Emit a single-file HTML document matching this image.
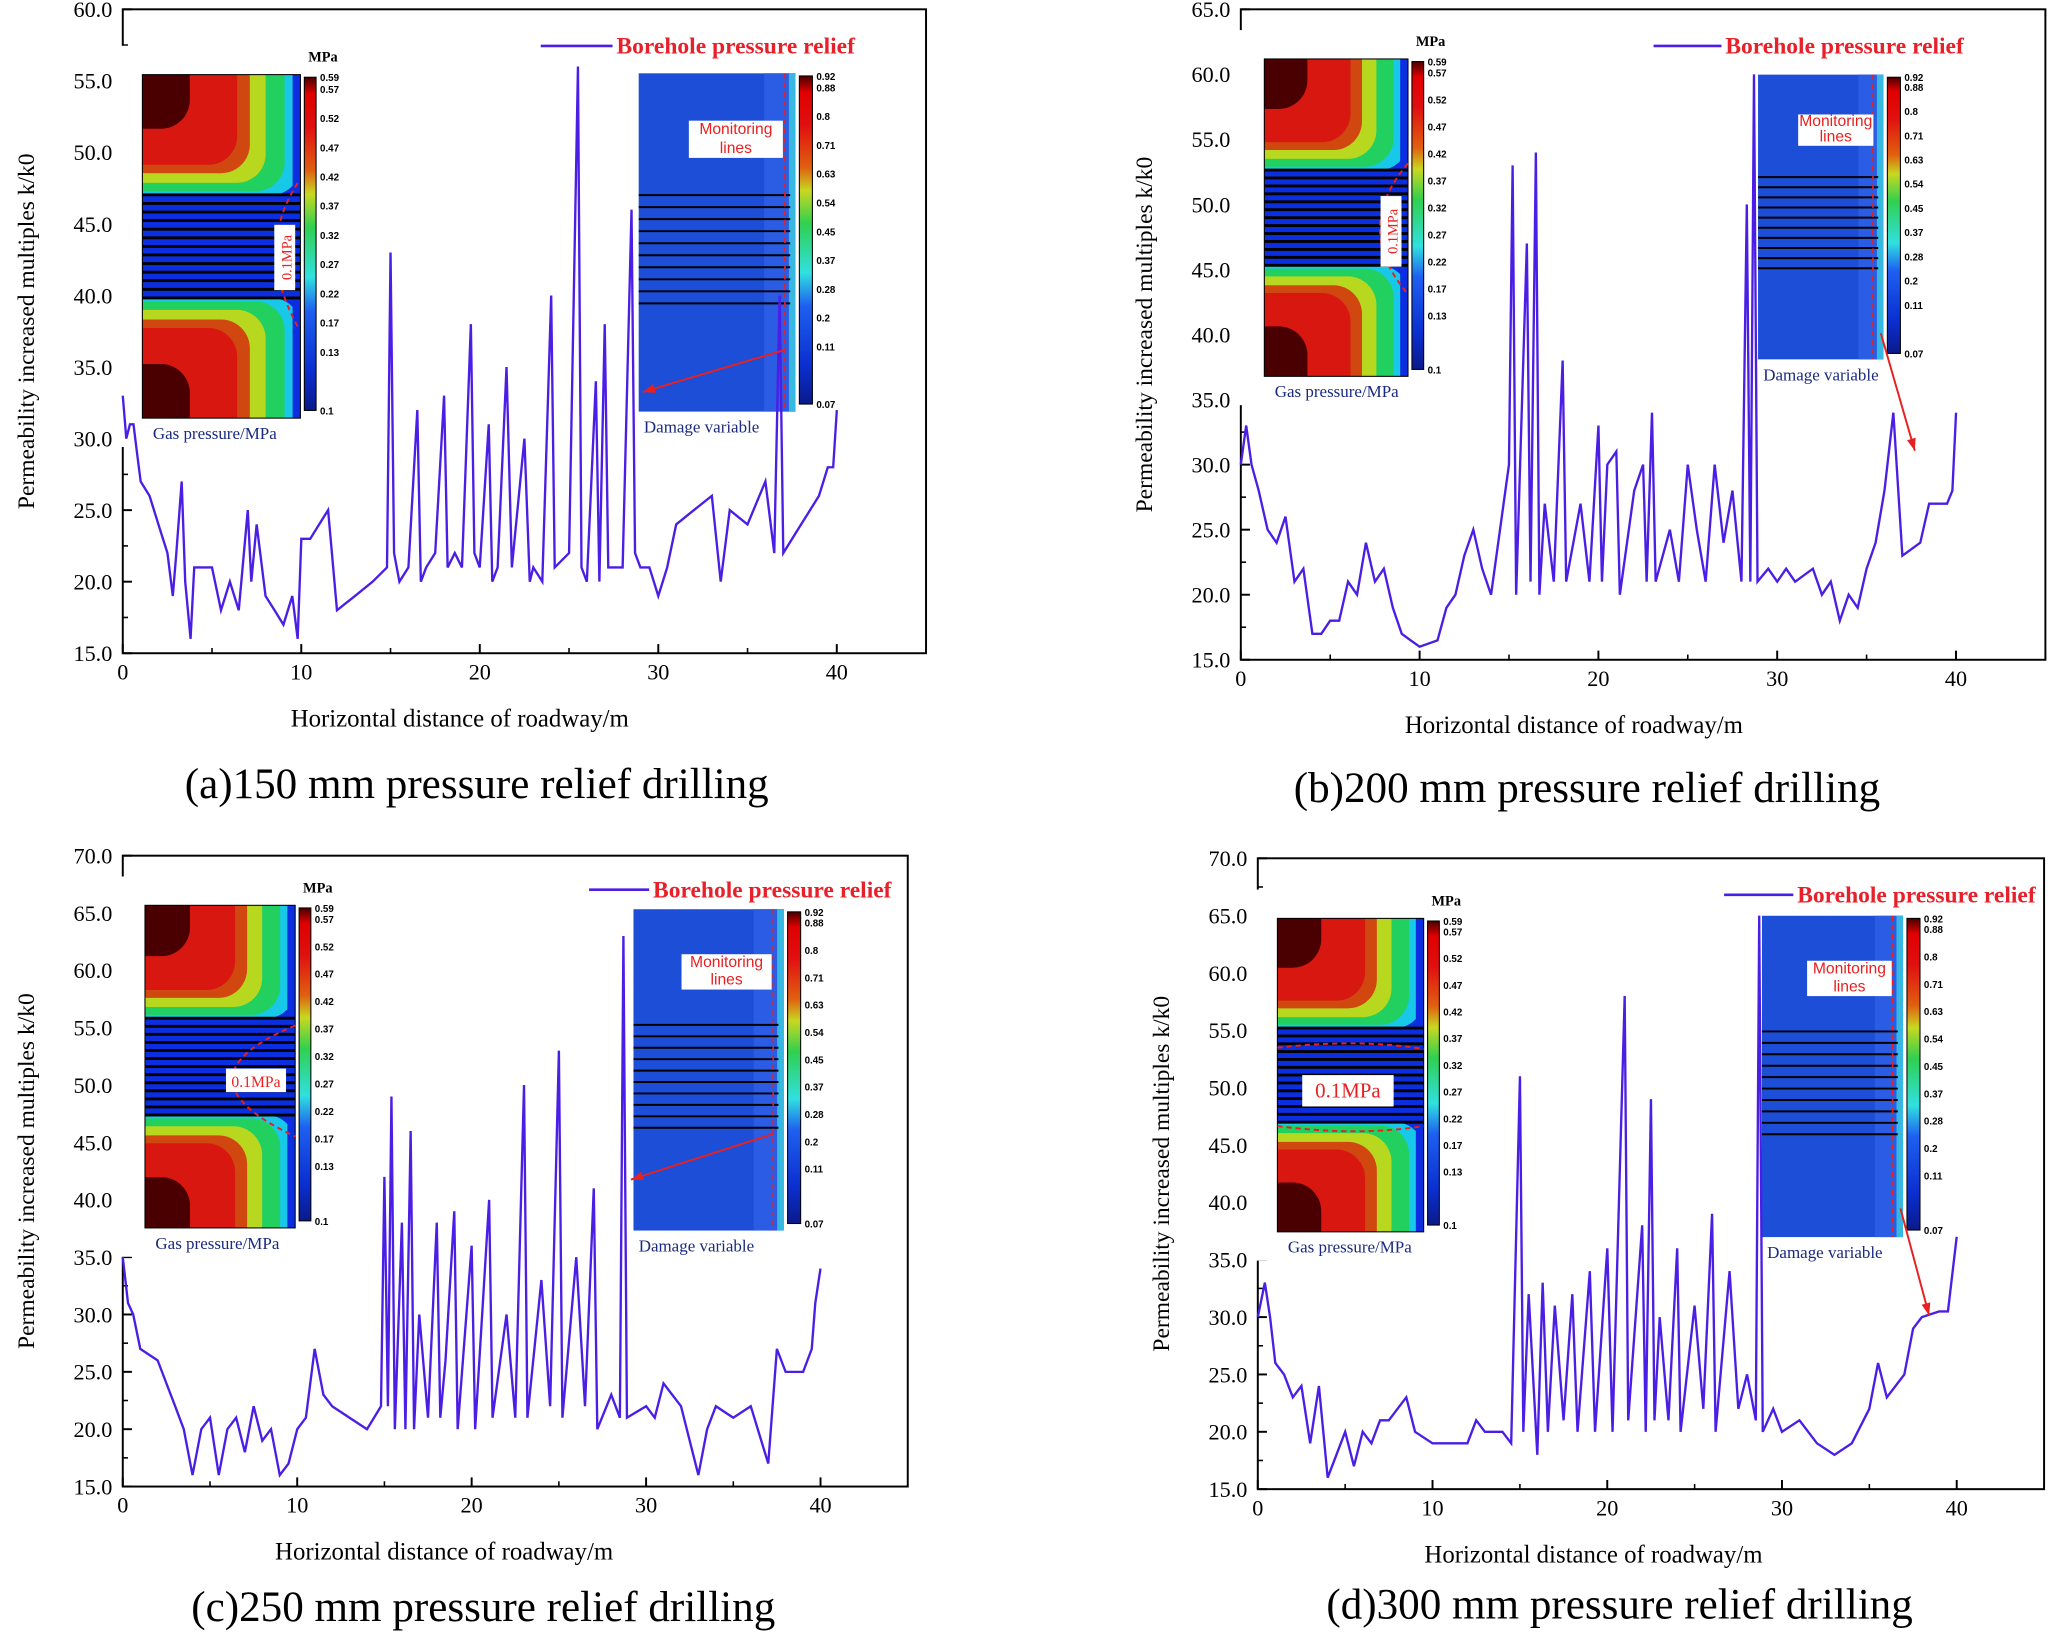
<!DOCTYPE html>
<html><head><meta charset="utf-8"><style>
html,body{margin:0;padding:0;background:#fff;}
svg{display:block;font-family:"Liberation Serif","Noto Serif CJK SC",serif;}
</style></head><body>
<svg id="fig" width="2048" height="1633" viewBox="0 0 1568 1250" xmlns="http://www.w3.org/2000/svg">
<defs>
<linearGradient id="cbar" x1="0" y1="1" x2="0" y2="0">
<stop offset="0" stop-color="#0a1a8a"/><stop offset="0.12" stop-color="#0b2fd0"/><stop offset="0.3" stop-color="#1e60f0"/>
<stop offset="0.4" stop-color="#30e0e0"/><stop offset="0.55" stop-color="#30d050"/><stop offset="0.65" stop-color="#c8d820"/>
<stop offset="0.72" stop-color="#e06010"/><stop offset="0.85" stop-color="#e01010"/><stop offset="0.95" stop-color="#e00000"/><stop offset="1" stop-color="#4a0000"/>
</linearGradient>
</defs>
</svg>
<script>
// ---- data ----
const xA=[0,0.2,0.4,0.6,0.8,1,1.5,2,2.5,2.8,3,3.3,3.5,3.8,4,5,5.5,6,6.5,7,7.2,7.5,8,8.5,9,9.5,9.8,10,10.5,11,11.5,12,13,14,14.8,15,15.2,15.5,16,16.5,16.7,17,17.5,18,18.2,18.6,19,19.5,19.7,20,20.5,20.7,21,21.5,21.8,22.5,22.8,23,23.5,24,24.2,25,25.5,25.7,26,26.5,26.7,27,27.2,28,28.5,28.7,29,29.5,30,30.5,31,32,33,33.5,34,35,36,36.5,36.8,37,38,38.5,39,39.5,39.8,40];
const yA=[33,30,31,31,29,27,26,24,22,19,22,27,20,16,21,21,18,20,18,25,20,24,19,18,17,19,16,23,23,24,25,18,19,20,21,43,22,20,21,32,20,21,22,33,21,22,21,38,22,21,31,20,21,35,21,30,20,21,20,40,21,22,56,21,20,34,20,38,21,21,46,22,21,21,19,21,24,25,26,20,25,24,27,22,40,22,24,25,26,28,28,32];
const xB=[0,0.3,0.6,1,1.5,2,2.5,3,3.5,4,4.5,5,5.5,6,6.5,7,7.5,8,8.5,9,9.5,10,11,11.5,12,12.5,13,13.5,14,15,15.2,15.4,16,16.2,16.5,16.7,17,17.5,18,18.2,19,19.5,20,20.2,20.5,21,21.2,22,22.5,22.7,23,23.2,24,24.5,25,25.5,26,26.5,27,27.5,28,28.3,28.5,28.7,28.9,29.5,30,30.5,31,32,32.5,33,33.5,34,34.5,35,35.5,36,36.5,37,38,38.5,39,39.5,39.8,40];
const yB=[30,33,30,28,25,24,26,21,22,17,17,18,18,21,20,24,21,22,19,17,16.5,16,16.5,19,20,23,25,22,20,30,53,20,47,21,54,20,27,21,38,21,27,21,33,21,30,31,20,28,30,21,34,21,25,21,30,25,21,30,24,28,21,50,21,60,21,22,21,22,21,22,20,21,18,20,19,22,24,28,34,23,24,27,27,27,28,34];
const xC=[0,0.3,0.6,1,2,2.5,3,3.5,4,4.5,5,5.5,6,6.5,7,7.5,8,8.5,9,9.5,10,10.5,11,11.5,12,13,14,14.8,15,15.2,15.4,15.6,16,16.2,16.5,16.7,17,17.5,18,18.2,18.5,19,19.2,20,20.2,21,21.2,22,22.5,23,23.2,24,24.5,25,25.2,26,26.5,27,27.2,28,28.5,28.7,28.9,30,30.5,31,32,33,33.5,34,35,36,37,37.5,38,39,39.5,39.7,40];
const yC=[35,31,30,27,26,24,22,20,16,20,21,16,20,21,18,22,19,20,16,17,20,21,27,23,22,21,20,22,42,22,49,20,38,20,46,20,30,21,38,21,26,39,20,36,20,40,21,30,21,50,21,33,22,53,21,35,22,41,20,23,21,63,21,22,21,24,22,16,20,22,21,22,17,27,25,25,27,31,34];
const xD=[0,0.4,0.7,1,1.5,2,2.5,3,3.5,4,4.5,5,5.5,6,6.5,7,7.5,8,8.5,9,10,11,12,12.5,13,14,14.5,15,15.2,15.5,16,16.3,16.6,17,17.5,18,18.3,19,19.3,20,20.3,21,21.2,22,22.2,22.5,22.7,23,23.5,24,24.2,25,25.5,26,26.2,27,27.5,28,28.5,28.7,28.9,29.5,30,31,32,33,34,35,35.5,36,37,37.5,38,39,39.5,40];
const yD=[30,33,30,26,25,23,24,19,24,16,18,20,17,20,19,21,21,22,23,20,19,19,19,21,20,20,19,51,20,32,18,33,20,31,21,32,20,34,20,36,20,58,21,38,20,49,21,30,21,36,20,31,22,39,20,34,22,25,21,65,20,22,20,21,19,18,19,22,26,23,25,29,30,30.5,30.5,37];
const xTicks=[0,10,20,30,40];
const yTicksAB=[15,20,25,30,35,40,45,50,55,60];
const yTicksB=[15,20,25,30,35,40,45,50,55,60,65];
const yTicksCD=[15,20,25,30,35,40,45,50,55,60,65,70];
const gasLabels=["0.59","0.57","0.52","0.47","0.42","0.37","0.32","0.27","0.22","0.17","0.13","0.1"];
const dmgLabels=["0.92","0.88","0.8","0.71","0.63","0.54","0.45","0.37","0.28","0.2","0.11","0.07"];

const NS="http://www.w3.org/2000/svg";
const svg=document.getElementById('fig');
function mk(tag,attrs,parent,text){const e=document.createElementNS(NS,tag);for(const k in attrs)e.setAttribute(k,attrs[k]);if(text!==undefined)e.textContent=text;(parent||svg).appendChild(e);return e;}

function panel(id,P){
  const g=mk('g',{});
  
  
  const sx=v=>P.l+(v-0)/45*(P.r-P.l);
  const sy=v=>P.b-(v-P.ymin)/(P.ymax-P.ymin)*(P.b-P.t);
  const frame=mk('rect',{x:P.l,y:P.t,width:P.r-P.l,height:P.b-P.t,fill:'none',stroke:'#000','stroke-width':1.5},g);
  
  P.yt.forEach((v,i)=>{
    mk('line',{x1:P.l,x2:P.l+7,y1:sy(v),y2:sy(v),stroke:'#000','stroke-width':1.5},g);
    if(i<P.yt.length-1) mk('line',{x1:P.l,x2:P.l+4,y1:sy(v+2.5),y2:sy(v+2.5),stroke:'#000','stroke-width':1.2},g);
    const t=mk('text',{x:P.l-8,y:sy(v)+6,'text-anchor':'end','font-size':17},g,v.toFixed(1));
    
  });
  xTicks.forEach(v=>{
    mk('line',{x1:sx(v),x2:sx(v),y1:P.b,y2:P.b-7,stroke:'#000','stroke-width':1.5},g);
    mk('line',{x1:sx(v+5),x2:sx(v+5),y1:P.b,y2:P.b-4,stroke:'#000','stroke-width':1.2},g);
    const t=mk('text',{x:sx(v),y:P.b+20,'text-anchor':'middle','font-size':17},g,String(v));
    
  });
  const yl=mk('text',{transform:`translate(${P.l-68},${(P.t+P.b)/2}) rotate(-90)`,'text-anchor':'middle','font-size':18},g,'Permeability increased multiples   k/k0');
  
  const xl=mk('text',{x:P.xlx,y:P.b+56,'text-anchor':'middle','font-size':19},g,'Horizontal distance of roadway/m');
  
  const cap=mk('text',{x:P.capx,y:P.capy,'text-anchor':'middle','font-size':33},g,P.cap);
  
  gasInset(g,P.gas,P.dash);
  dmgInset(g,P.dmg);
  const d=P.xs.map((x,i)=>(i?'L':'M')+sx(x).toFixed(1)+','+sy(P.ys[i]).toFixed(1)).join('');
  const s=mk('path',{d:d,fill:'none',stroke:'#4b1ee6','stroke-width':1.8},g);
  
  const lg=mk('g',{},g);
  mk('line',{x1:P.leg[0],x2:P.leg[0]+P.leg[2],y1:P.leg[1],y2:P.leg[1],stroke:'#4b1ee6','stroke-width':2},lg);
  mk('text',{x:P.leg[0]+P.leg[2]+3,y:P.leg[1]+6,'font-size':18,'font-weight':'bold',fill:'#e8202a'},lg,'Borehole pressure relief');
  const a=mk('g',{},g);
  const [x1,y1,x2,y2]=P.arrow;
  mk('line',{x1,y1,x2,y2,stroke:'#e82020','stroke-width':1.5},a);
  const ang=Math.atan2(y2-y1,x2-x1),L=10;
  mk('polygon',{points:`${x2},${y2} ${x2-L*Math.cos(ang-0.35)},${y2-L*Math.sin(ang-0.35)} ${x2-L*Math.cos(ang+0.35)},${y2-L*Math.sin(ang+0.35)}`,fill:'#e82020'},a);
}

function colorbar(g,x,y,w,h,labels,fs){
  mk('rect',{x,y,width:w,height:h,fill:'url(#cbar)',stroke:'#000','stroke-width':0.8},g);
  labels.forEach((l,i)=>{
    let yy=y+ (i===0?0:(i===1?h*0.035:h*0.035+(i-1)*(h*0.965-0)/ (labels.length-1)));
    if(i===labels.length-1) yy=y+h;
    mk('text',{x:x+w+3,y:yy+3,'font-size':fs,'font-family':'Liberation Sans, sans-serif','font-weight':'bold'},g,l);
  });
}

function gasInset(parent,R,dash){
  const g=mk('g',{},parent);
  const {x,y,w,h}=R;
  mk('rect',{x,y,width:w,height:h,fill:'#0b2fe0'},g);
  const band=0.35*h;
  const layers=[['#18c8e8',1.0,1.0],['#22d060',0.9,0.97],['#b8d820',0.78,0.9],['#d04810',0.68,0.82],['#d81810',0.6,0.75],['#4a0000',0.3,0.45]];
  layers.forEach(([c,fw,fh])=>{
    mk('rect',{x:x-20,y:y-20,width:w*fw+20,height:band*fh+20,rx:22,fill:c},g);
    mk('rect',{x:x-20,y:y+h-band*fh,width:w*fw+20,height:band*fh+20,rx:22,fill:c},g);
  });
  mk('rect',{x:x+w-6,y,width:6,height:h,fill:'#0b2fe0'},g);
  mk('rect',{x:x-22,y:y-22,width:22,height:h+44,fill:'#fff'},g);
  mk('rect',{x:x-22,y:y-22,width:w+30,height:22,fill:'#fff'},g);
  mk('rect',{x:x-22,y:y+h,width:w+30,height:22,fill:'#fff'},g);
  const n=12;for(let i=0;i<=n;i++){const yy=y+band+(h-2*band)*i/n;mk('line',{x1:x,x2:x+w,y1:yy,y2:yy,stroke:'#000','stroke-width':2.2},g);}
  mk('rect',{x,y,width:w,height:h,fill:'none',stroke:'#000','stroke-width':0.8},g);
  if(dash) mk('path',{d:dash,fill:'none',stroke:'#e82020','stroke-width':1.5,'stroke-dasharray':'4,3'},g);
  colorbar(g,x+w+3,y+2,9,h*0.97,gasLabels,7.5);
  mk('text',{x:x+w+6,y:y-10,'font-size':11,'font-weight':'bold'},g,'MPa');
  mk('text',{x:x+8,y:y+h+16,'font-size':13,fill:'#1a2a80'},g,'Gas pressure/MPa');
  if(R.lab) mk('rect',{x:R.lab[0],y:R.lab[1],width:R.lab[2],height:R.lab[3],fill:'#fff'},g);
  if(R.lab) mk('text',{x:R.lab[0]+R.lab[2]/2,y:R.lab[1]+R.lab[3]/2+5,'text-anchor':'middle','font-size':R.lab[4],fill:'#e82020',transform:R.lab[5]||''},g,'0.1MPa');
}

function dmgInset(parent,R){
  const g=mk('g',{},parent);
  const {x,y,w,h}=R;
  mk('rect',{x,y,width:w,height:h,fill:'#1d4ed8'},g);
  mk('rect',{x:x+w*0.8,y,width:w*0.2,height:h,fill:'#2a5ce4'},g);
  mk('rect',{x:x+w-5,y,width:5,height:h,fill:'#38b8e0'},g);
  for(let i=0;i<10;i++){const yy=y+h*0.36+h*0.32*i/9;mk('line',{x1:x,x2:x+w-4,y1:yy,y2:yy,stroke:'#000','stroke-width':1.5},g);}
  mk('line',{x1:x+w-8,x2:x+w-8,y1:y,y2:y+h,stroke:'#e82020','stroke-width':1.3,'stroke-dasharray':'4,3'},g);
  mk('rect',{x:x+w*0.32,y:y+h*0.14,width:w*0.6,height:h*0.11,fill:'#fff'},g);
  mk('text',{x:x+w*0.62,y:y+h*0.18,'text-anchor':'middle','font-size':12,fill:'#e82020','font-family':'Liberation Sans, sans-serif'},g,'Monitoring');
  mk('text',{x:x+w*0.62,y:y+h*0.235,'text-anchor':'middle','font-size':12,fill:'#e82020','font-family':'Liberation Sans, sans-serif'},g,'lines');
  colorbar(g,x+w+3,y+2,10,h*0.97,dmgLabels,7.5);
  mk('text',{x:x+4,y:y+h+16,'font-size':13,fill:'#1a2a80'},g,'Damage variable');
}

panel('a',{l:94,r:709,t:7,b:500,ymin:15,ymax:60,yt:yTicksAB,xs:xA,ys:yA,xlx:352,cap:'(a)150 mm pressure relief drilling',capx:365,capy:611,
  gas:{x:109,y:57,w:121,h:263,lab:[210,172,16,50,11,'rotate(-90 218 197)']},dash:'M228,140 Q195,190 228,250',
  dmg:{x:489,y:56,w:120,h:259},leg:[414,35,55],arrow:[600,268,492,300]});
panel('b',{l:950,r:1566,t:7,b:505,ymin:15,ymax:65,yt:yTicksB,xs:xB,ys:yB,xlx:1205,cap:'(b)200 mm pressure relief drilling',capx:1215,capy:614,
  gas:{x:968,y:45,w:110,h:243,lab:[1057,150,16,54,11,'rotate(-90 1065 177)']},dash:'M1078,125 Q1035,175 1078,225',
  dmg:{x:1346,y:57,w:96,h:218},leg:[1266,35,52],arrow:[1440,255,1466,345]});
panel('c',{l:94,r:695,t:655,b:1138,ymin:15,ymax:70,yt:yTicksCD,xs:xC,ys:yC,xlx:340,cap:'(c)250 mm pressure relief drilling',capx:370,capy:1241,
  gas:{x:111,y:693,w:115,h:247,lab:[173,818,46,18,12]},dash:'M226,785 Q130,825 226,870',
  dmg:{x:485,y:696,w:115,h:246},leg:[451,681,46],arrow:[592,868,483,903]});
panel('d',{l:963,r:1565,t:657,b:1140,ymin:15,ymax:70,yt:yTicksCD,xs:xD,ys:yD,xlx:1220,cap:'(d)300 mm pressure relief drilling',capx:1240,capy:1239,
  gas:{x:978,y:703,w:112,h:240,lab:[997,823,70,24,16]},dash:'M978,802 Q1040,795 1090,803 M978,862 Q1040,870 1090,862',
  dmg:{x:1349,y:701,w:108,h:246},leg:[1320,685,53],arrow:[1455,925,1477,1007]});
</script>
</body></html>
